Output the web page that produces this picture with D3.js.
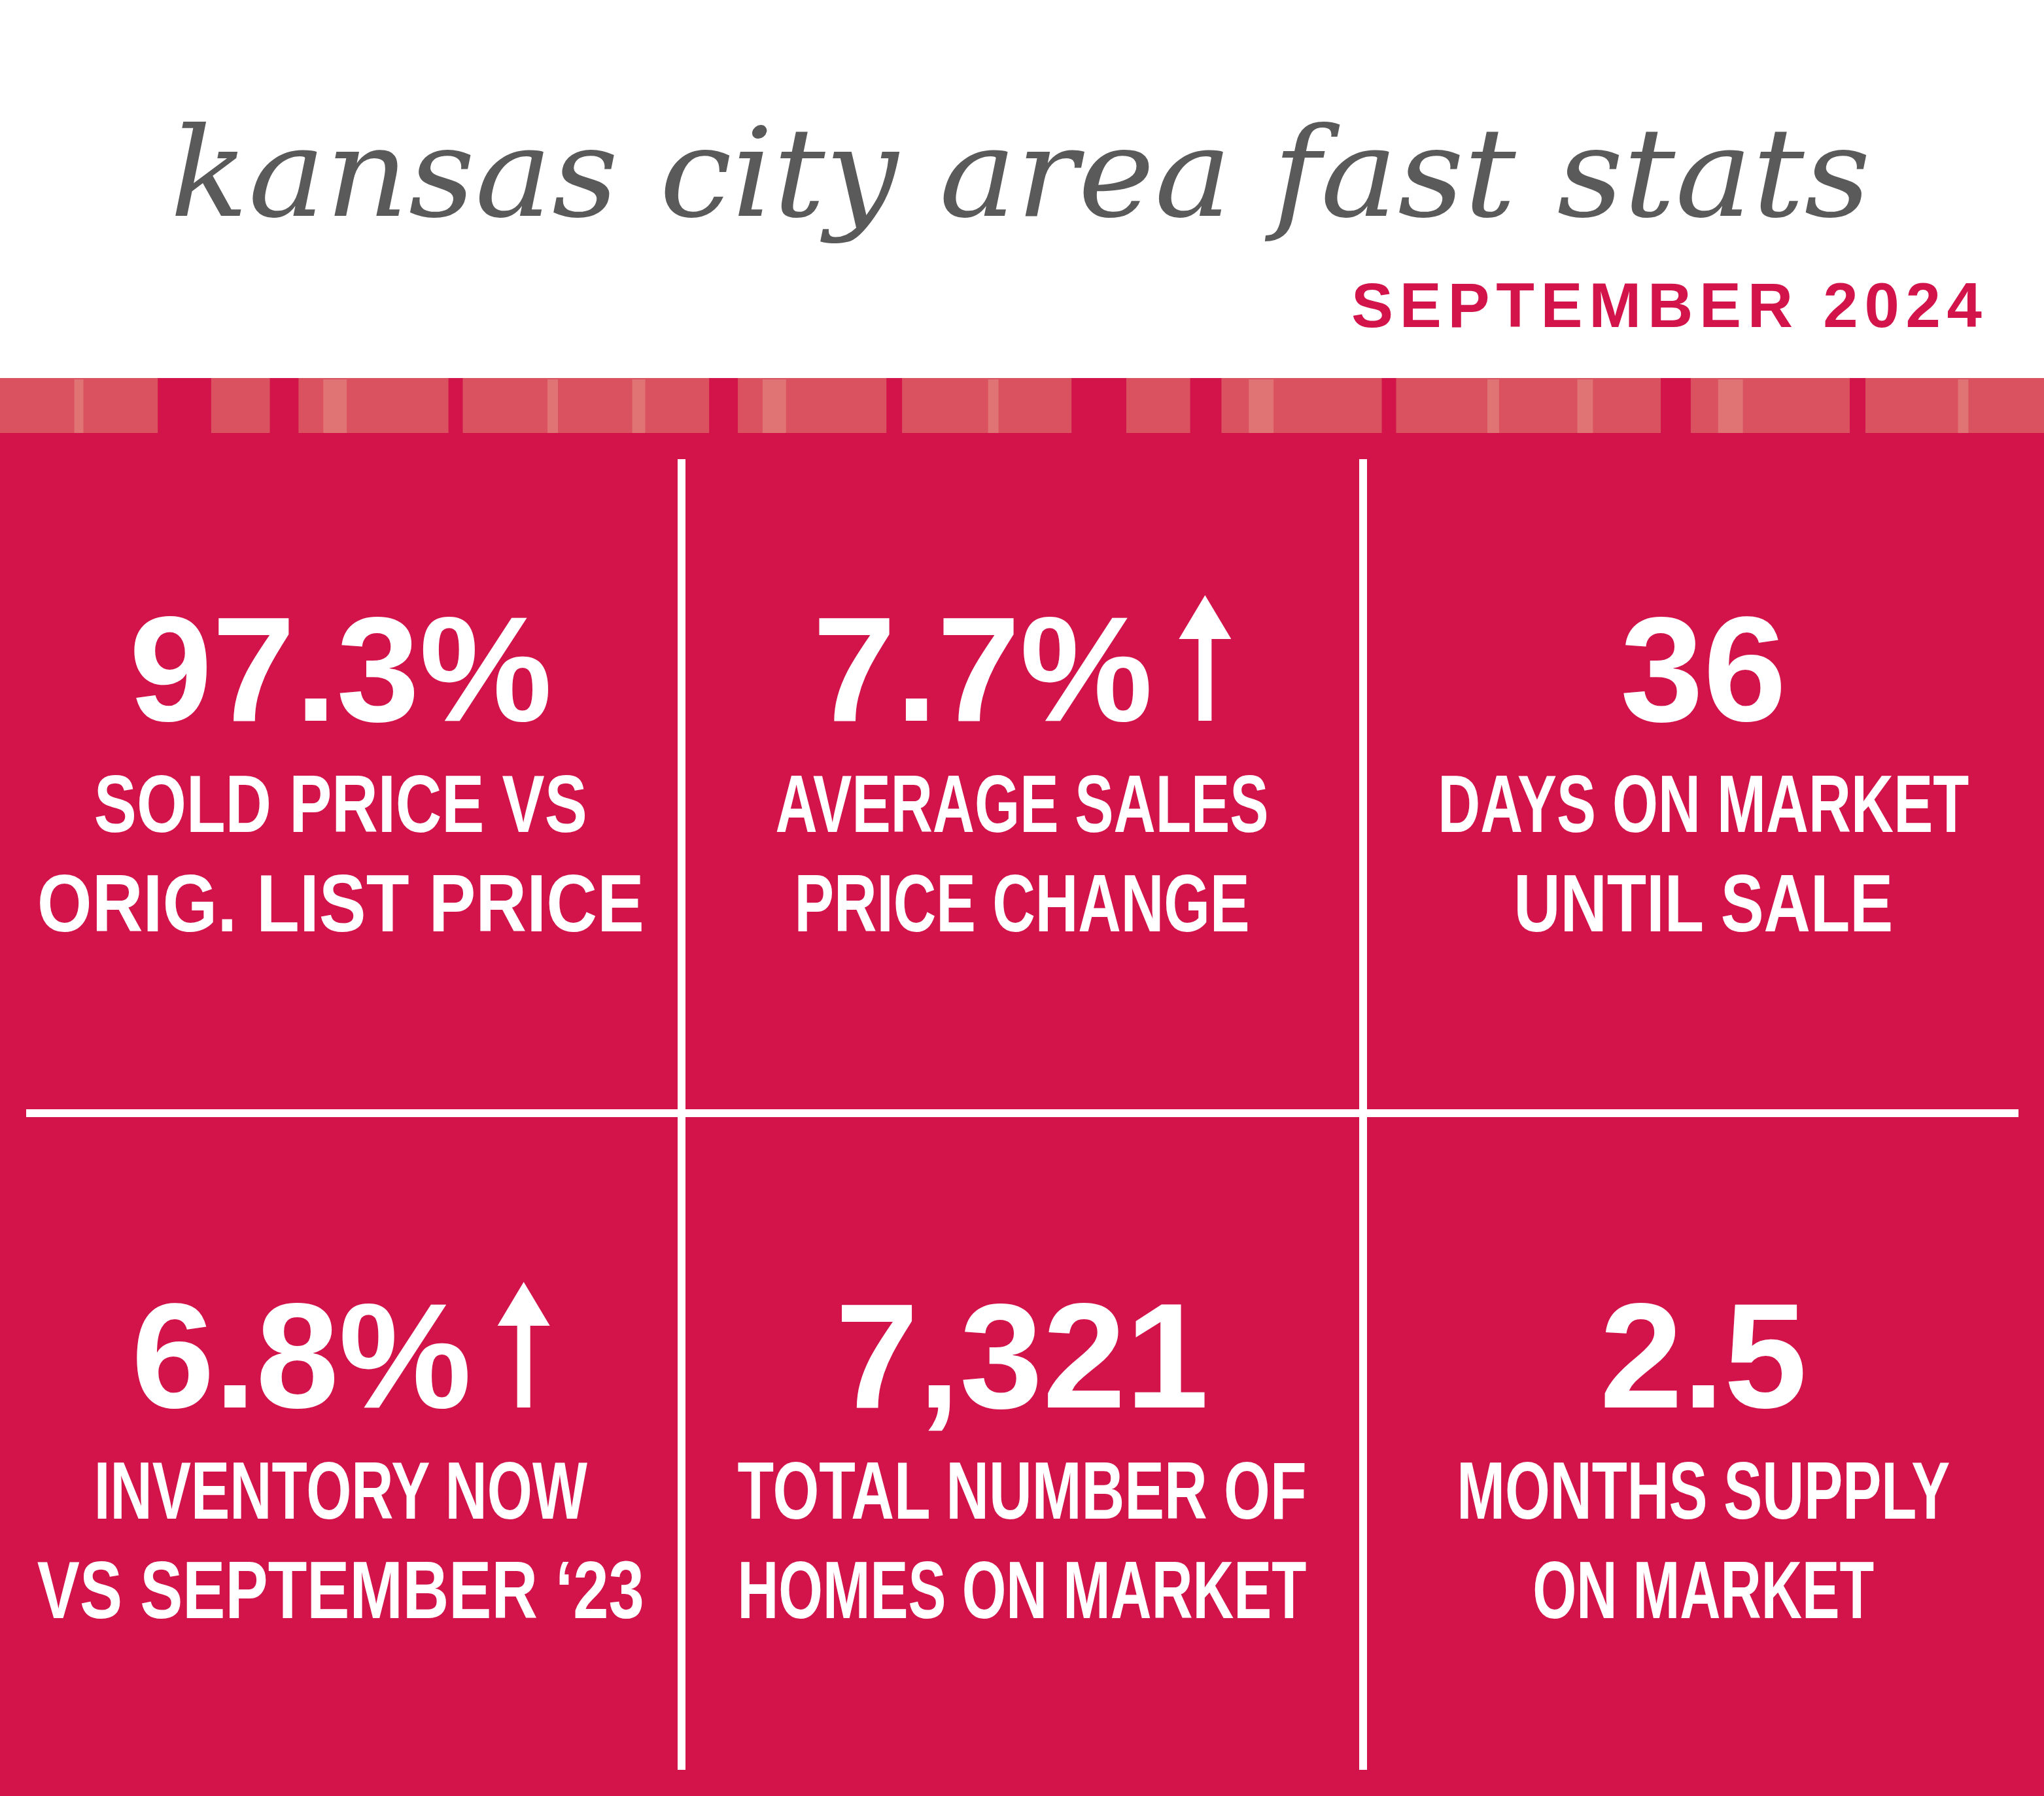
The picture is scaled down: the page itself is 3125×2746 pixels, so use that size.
<!DOCTYPE html>
<html><head><meta charset="utf-8">
<script src="https://cdn.jsdelivr.net/npm/d3@7"></script>
<style>body{margin:0;background:#fff}</style></head>
<body><svg id="c" width="3125" height="2746"></svg>
<script>
const title = "kansas city area fast stats";
const subtitle = "SEPTEMBER 2024";
const values = ["97.3%", "7.7%", "36", "6.8%", "7,321", "2.5"];
const arrows = [false, true, false, true, false, false];
const labelLine1 = ["SOLD PRICE VS", "AVERAGE SALES", "DAYS ON MARKET", "INVENTORY NOW", "TOTAL NUMBER OF", "MONTHS SUPPLY"];
const labelLine2 = ["ORIG. LIST PRICE", "PRICE CHANGE", "UNTIL SALE", "VS SEPTEMBER \u201823", "HOMES ON MARKET", "ON MARKET"];
const darkGaps = [[121,162],[207,229],[344,355],[544,566],[680,692],[822,864],[913,937],[1060,1071],[1274,1297],[1419,1431]];
const lightStripes = [[57,64],[248,266],[420,428],[485,495],[585,603],[758,766],[958,977],[1141,1150],[1210,1222],[1318,1337],[1502,1510]];

const W=3125,H=2746, RED="#D2144A";
const svg=d3.select("#c");
const sx=d3.scaleLinear().domain([0,1568]).range([0,W]);
svg.append("rect").attr("x",0).attr("y",660).attr("width",W).attr("height",H-660).attr("fill",RED);
svg.append("rect").attr("x",0).attr("y",578).attr("width",W).attr("height",84).attr("fill","#DA525F");
svg.selectAll(".lt").data(lightStripes).join("rect").attr("x",d=>sx(d[0])).attr("width",d=>sx(d[1])-sx(d[0])).attr("y",580).attr("height",82).attr("fill","#E07474");
svg.selectAll(".dg").data(darkGaps).join("rect").attr("x",d=>sx(d[0])).attr("width",d=>sx(d[1])-sx(d[0])).attr("y",578).attr("height",84).attr("fill",RED);

svg.append("text").text(title).attr("x",260).attr("y",330).attr("textLength",2600).attr("lengthAdjust","spacingAndGlyphs")
 .attr("font-family","DejaVu Serif").attr("font-style","italic").attr("font-size",190).attr("fill","#5a5a5a");
svg.append("text").text(subtitle).attr("x",2066).attr("y",500).attr("textLength",964).attr("lengthAdjust","spacing")
 .attr("font-family","Liberation Sans").attr("font-weight","bold").attr("font-size",96).attr("fill",RED);

const col=d3.scaleBand().domain([0,1,2]).range([0,W]);
[1042,2084].forEach(x=>svg.append("rect").attr("x",x-6).attr("y",702).attr("width",12).attr("height",2004).attr("fill","#fff"));
svg.append("rect").attr("x",40).attr("y",1696).attr("width",3046).attr("height",12).attr("fill","#fff");

const rowY=d3.scaleOrdinal().domain([0,1]).range([1102,2152]);
const g=svg.selectAll(".cell").data(values).join("g")
 .attr("transform",(d,i)=>`translate(${col(i%3)+col.bandwidth()/2},${rowY(Math.floor(i/3))})`);
g.append("text").text(d=>d).attr("text-anchor","middle").attr("x",(d,i)=>arrows[i]?-60:0)
 .attr("font-family","Liberation Sans").attr("font-weight","bold").attr("font-size",228).attr("fill","#fff");
g.filter((d,i)=>arrows[i]).each(function(d){
  const el=d3.select(this);
  const w=this.querySelector("text").getComputedTextLength();
  const ax=-60+w/2+80;
  el.append("rect").attr("x",ax-10).attr("y",-130).attr("width",20).attr("height",130).attr("fill","#fff");
  el.append("path").attr("d",`M${ax-40},-125 L${ax},-192 L${ax+40},-125 Z`).attr("fill","#fff");
});
const lab=(arr,dy)=>g.append("text").text((d,i)=>arr[i]).attr("text-anchor","middle").attr("y",dy)
 .attr("textLength",(d,i)=>arr[i].length*58).attr("lengthAdjust","spacingAndGlyphs")
 .attr("font-family","Liberation Sans").attr("font-weight","bold").attr("font-size",124).attr("fill","#fff");
lab(labelLine1,170); lab(labelLine2,322);
</script></body></html>
